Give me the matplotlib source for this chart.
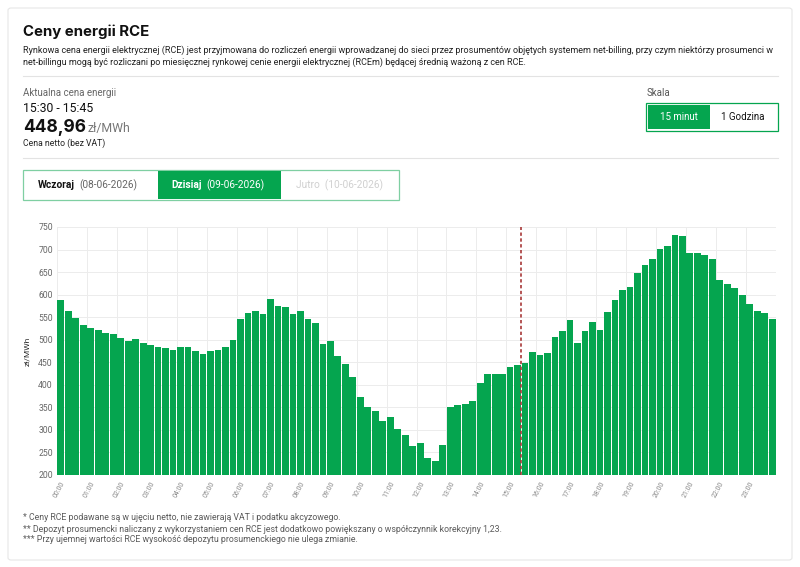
import matplotlib
matplotlib.use("Agg")
import matplotlib.pyplot as plt
from matplotlib.patches import FancyBboxPatch, Rectangle
import numpy as np

plt.rcParams['font.family'] = ['Roboto', 'DejaVu Sans']

# ---- data ----
labels = [f"{h:02d}:{m:02d}" for h in range(24) for m in (0, 15, 30, 45)]
prices = [588, 563, 548, 533, 525, 521, 516, 513, 503, 498, 501, 493,
          488, 483, 482, 477, 484, 484, 474, 468, 476, 477, 483, 499,
          545, 560, 563, 558, 591, 575, 572, 557, 563, 546, 536, 491,
          497, 463, 446, 417, 373, 351, 342, 319, 328, 302, 288, 265,
          271, 237, 232, 267, 350, 356, 357, 365, 403, 425, 424, 424,
          439, 445, 448.96, 473, 467, 470, 505, 519, 544, 493, 519, 539,
          521, 562, 588, 611, 616, 647, 666, 678, 701, 707, 732, 731,
          693, 692, 687, 678, 632, 624, 615, 600, 579, 564, 559, 547]
hour_labels = [f"{h:02d}:00" for h in range(24)]
y_ticks = [200, 250, 300, 350, 400, 450, 500, 550, 600, 650, 700, 750]
current_index = 62

GREEN = '#05a54f'
W, H = 800, 567

fig = plt.figure(figsize=(W / 100, H / 100), dpi=100)
fig.patch.set_facecolor('white')

def fx(x):
    return x / W

def fy(y):
    return 1 - y / H

# card
card = FancyBboxPatch((fx(8), fy(560)), fx(784), (552) / H,
                      boxstyle="round,pad=0,rounding_size=0.004",
                      transform=fig.transFigure, facecolor='white',
                      edgecolor='#e6e6e6', linewidth=0.8, zorder=-5)
fig.patches.append(card)

# title & description
fig.text(fx(23), fy(32), "Ceny energii RCE", fontsize=10.8, fontweight='bold',
         color='#111111', va='center', ha='left', family=['Inter', 'DejaVu Sans'])
fig.text(fx(23), fy(50), "Rynkowa cena energii elektrycznej (RCE) jest przyjmowana do rozliczeń energii wprowadzanej do sieci przez prosumentów objętych systemem net-billing, przy czym niektórzy prosumenci w",
         fontsize=6.45, color='#222222', va='center', ha='left')
fig.text(fx(23), fy(62), "net-billingu mogą być rozliczani po miesięcznej rynkowej cenie energii elektrycznej (RCEm) będącej średnią ważoną z cen RCE.",
         fontsize=6.45, color='#222222', va='center', ha='left')

# separators
fig.add_artist(plt.Line2D([fx(23), fx(778)], [fy(76), fy(76)], transform=fig.transFigure,
                          color='#e3e3e3', linewidth=0.8))
fig.add_artist(plt.Line2D([fx(23), fx(778)], [fy(158), fy(158)], transform=fig.transFigure,
                          color='#e3e3e3', linewidth=0.8))

# current price block
fig.text(fx(23), fy(93), "Aktualna cena energii", fontsize=7.0, color='#666666', va='center')
fig.text(fx(23), fy(108), "15:30 - 15:45", fontsize=8.8, color='#111111', va='center')
fig.text(fx(23), fy(128), "448,96", fontsize=12.5, fontweight='bold', color='#111111',
         va='center', family=['Inter', 'DejaVu Sans'])
fig.text(fx(87), fy(129), "zł/MWh", fontsize=8.8, color='#777777', va='center')
fig.text(fx(23), fy(143), "Cena netto (bez VAT)", fontsize=6.2, color='#222222', va='center')

# Skala
fig.text(fx(647), fy(93), "Skala", fontsize=7.0, color='#555555', va='center')
fig.patches.append(Rectangle((fx(646), fy(131)), fx(132), 28 / H, transform=fig.transFigure,
                             facecolor='white', edgecolor=GREEN, linewidth=0.9))
fig.patches.append(Rectangle((fx(648), fy(129)), fx(62), 24 / H, transform=fig.transFigure,
                             facecolor=GREEN, edgecolor='none'))
fig.text(fx(679), fy(117), "15 minut", fontsize=7.0, color='white', va='center', ha='center')
fig.text(fx(743), fy(117), "1 Godzina", fontsize=7.0, color='#111111', va='center', ha='center')

# day tabs
fig.patches.append(Rectangle((fx(23), fy(200)), fx(376), 30 / H, transform=fig.transFigure,
                             facecolor='white', edgecolor='#7fcfa2', linewidth=0.9))
fig.patches.append(Rectangle((fx(158), fy(199)), fx(123), 28 / H, transform=fig.transFigure,
                             facecolor=GREEN, edgecolor='none'))
fig.text(fx(75), fy(185), "Wczoraj", fontsize=7.3, color='#111111', fontweight='bold',
         va='center', ha='right')
fig.text(fx(79), fy(185), "(08-06-2026)", fontsize=7.3, color='#666666', va='center', ha='left')
fig.text(fx(202), fy(185), "Dzisiaj", fontsize=7.3, color='white', fontweight='bold',
         va='center', ha='right')
fig.text(fx(206), fy(185), "(09-06-2026)", fontsize=7.3, color='white', va='center', ha='left')
fig.text(fx(340), fy(185), "Jutro  (10-06-2026)", fontsize=7.3, color='#d0d0d0',
         va='center', ha='center')

# chart
ax = fig.add_axes([fx(57), fy(475), fx(719), 248 / H])
ax.set_zorder(3)
ax.patch.set_alpha(0)
x = np.arange(len(prices))
ax.bar(x, np.array(prices) - 200, bottom=200, width=0.9, color=GREEN, edgecolor='none', zorder=2)
ax.set_xlim(-0.5, len(prices) - 0.5)
ax.set_ylim(200, 750)
ax.set_yticks(y_ticks)
ax.set_yticklabels([str(v) for v in y_ticks], fontsize=6.2, color='#666666')
ax.set_xticks(np.arange(0, len(prices), 4))
ax.set_xticklabels(hour_labels, fontsize=5.0, color='#888888', rotation=62,
                   ha='right', rotation_mode='anchor')
ax.tick_params(axis='both', length=0, pad=3)
ax.tick_params(axis='x', pad=4)
for v in y_ticks:
    ax.axhline(v, color='#ececec', linewidth=0.7, zorder=0)
for k in range(0, len(prices) + 1, 4):
    ax.axvline(k - 0.5, color='#ececec', linewidth=0.7, zorder=0)
for s in ax.spines.values():
    s.set_visible(False)
ax.set_ylabel("zł/MWh", fontsize=6.0, color='#333333', labelpad=6)
ax.axvline(current_index - 0.5, color='#a83838', linestyle=(0, (2, 1.5)), linewidth=1.2, zorder=3)

# footnotes
fig.text(fx(23), fy(518), "* Ceny RCE podawane są w ujęciu netto, nie zawierają VAT i podatku akcyzowego.",
         fontsize=6.3, color='#5a5a5a', va='center')
fig.text(fx(23), fy(529), "** Depozyt prosumencki naliczany z wykorzystaniem cen RCE jest dodatkowo powiększany o współczynnik korekcyjny 1,23.",
         fontsize=6.3, color='#5a5a5a', va='center')
fig.text(fx(23), fy(540), "*** Przy ujemnej wartości RCE wysokość depozytu prosumenckiego nie ulega zmianie.",
         fontsize=6.3, color='#5a5a5a', va='center')

fig.savefig("out.png", dpi=100, facecolor='white')
